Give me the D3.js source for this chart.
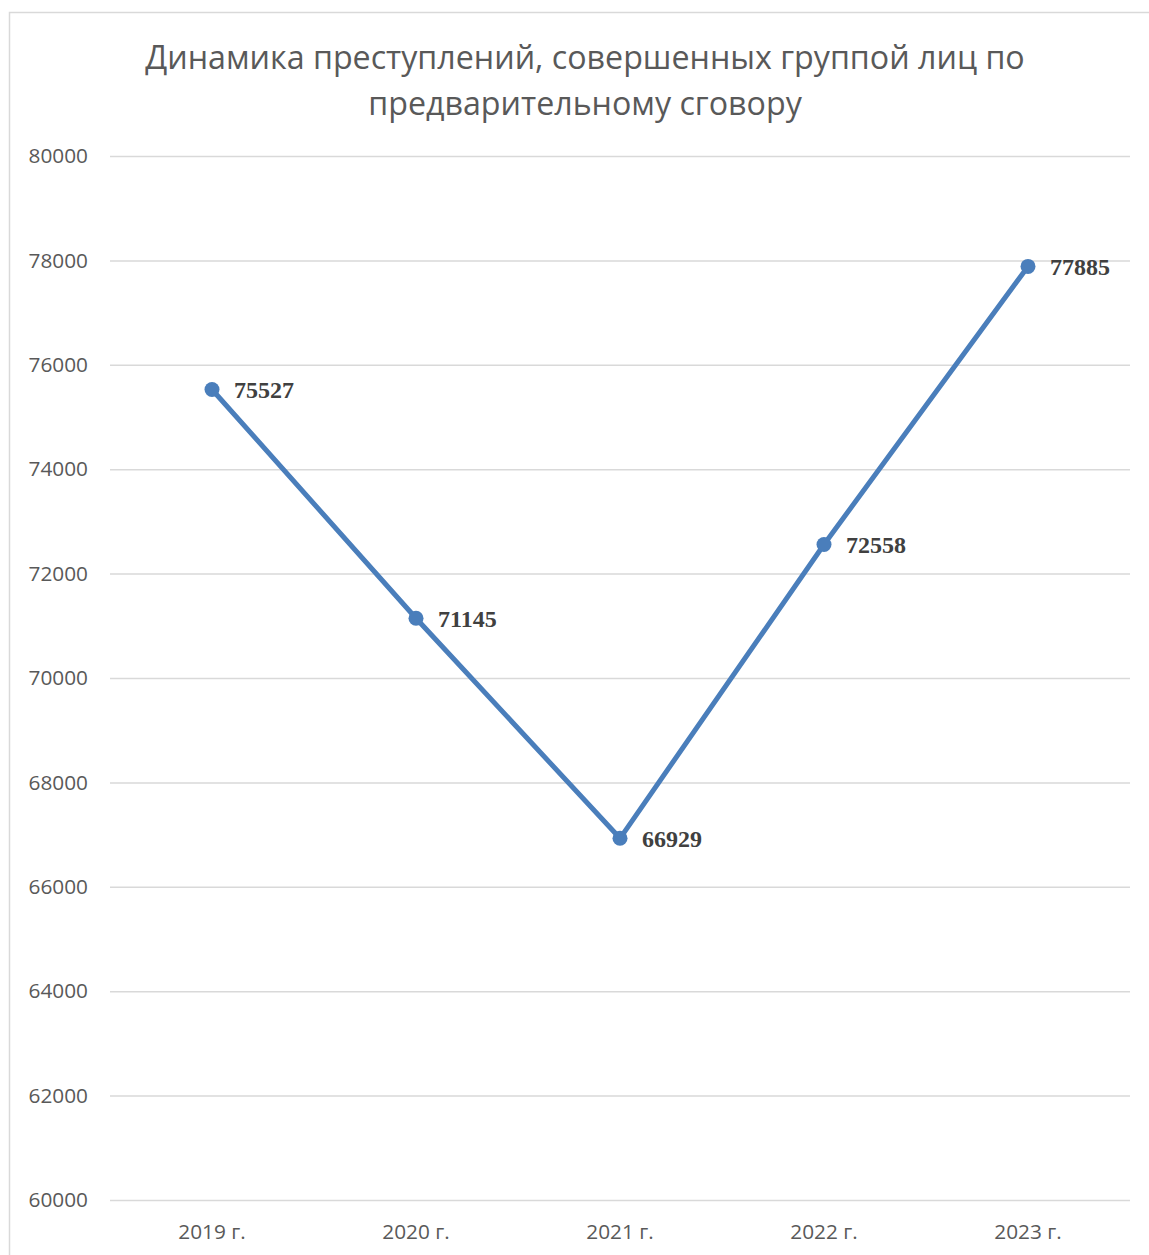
<!DOCTYPE html>
<html lang="ru">
	<head>
		<meta charset="UTF-8">
		<title>Динамика преступлений</title>
		<script src="https://cdnjs.cloudflare.com/ajax/libs/d3/7.8.5/d3.min.js"></script>
		<style>
			body { margin: 0; background: #fff; }
		</style>
	</head>
	<body>
		<svg id="chart" width="1149" height="1255"></svg>
		<script>
var years = ["2019 г.", "2020 г.", "2021 г.", "2022 г.", "2023 г."];
var crimes = [75527, 71145, 66929, 72558, 77885];
var yTicks = [60000, 62000, 64000, 66000, 68000, 70000, 72000, 74000, 76000, 78000, 80000];
var titleLines = ["Динамика преступлений, совершенных группой лиц по", "предварительному сговору"];

var svg = d3.select("#chart");

// outer frame of the chart
svg.append("rect")
	.attr("x", 9.5)
	.attr("y", 12.5)
	.attr("width", 1160)
	.attr("height", 1260)
	.attr("fill", "none")
	.attr("stroke", "#d9d9d9")
	.attr("stroke-width", 1.5);

var scX = d3.scaleBand()
	.domain(years)
	.range([110, 1130]);

var scY = d3.scaleLinear()
	.domain([60000, 80000])
	.range([1200, 156]);

svg.append("g")
	.selectAll("text")
	.data(titleLines)
	.enter()
	.append("text")
	.attr("x", 585)
	.attr("y", (d, i) => 69 + i * 46)
	.attr("text-anchor", "middle")
	.attr("font-family", "'Open Sans', sans-serif")
	.attr("font-size", 32.2)
	.attr("fill", "#595959")
	.text(d => d);

// grid + y labels
var yAxis = d3.axisLeft(scY)
	.tickValues(yTicks)
	.tickSize(-1020)
	.tickPadding(22)
	.tickFormat(d3.format("d"));

var gy = svg.append("g")
	.attr("transform", "translate(110,0)")
	.call(yAxis);
gy.select(".domain").remove();
gy.selectAll("line").attr("stroke", "#d9d9d9").attr("stroke-width", 1.5);
gy.selectAll("text")
	.attr("font-family", "'Open Sans', sans-serif")
	.attr("font-size", 20.8)
	.attr("fill", "#595959");

var xAxis = d3.axisBottom(scX).tickSize(0).tickPadding(24);
var gx = svg.append("g")
	.attr("transform", "translate(0,1200)")
	.call(xAxis);
gx.select(".domain").remove();
gx.selectAll("text")
	.attr("font-family", "'Open Sans', sans-serif")
	.attr("font-size", 20.8)
	.attr("fill", "#595959");

var data = years.map((y, i) => ({ year: y, value: crimes[i] }));
var cx = d => scX(d.year) + scX.bandwidth() / 2;

var lineMaker = d3.line()
	.x(cx)
	.y(d => scY(d.value));

svg.append("path")
	.attr("fill", "none")
	.attr("stroke", "#4a7ebb")
	.attr("stroke-width", 5)
	.attr("stroke-linejoin", "round")
	.attr("d", lineMaker(data));

svg.append("g")
	.selectAll("circle")
	.data(data)
	.enter()
	.append("circle")
	.attr("r", 7.5)
	.attr("fill", "#4a7ebb")
	.attr("cx", cx)
	.attr("cy", d => scY(d.value));

svg.append("g")
	.selectAll("text")
	.data(data)
	.enter()
	.append("text")
	.attr("x", d => cx(d) + 22)
	.attr("y", d => scY(d.value) + 9)
	.attr("font-family", "'Liberation Serif', 'Times New Roman', serif")
	.attr("font-weight", "bold")
	.attr("font-size", 24)
	.attr("fill", "#404040")
	.text(d => d.value);
		</script>
	</body>
</html>
